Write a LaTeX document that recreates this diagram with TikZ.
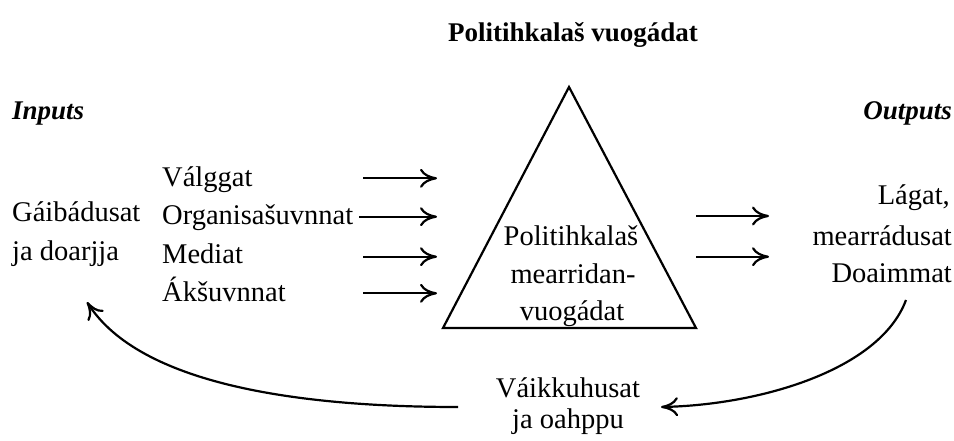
\documentclass[tikz,border=0pt]{standalone}
\usepackage{fontspec}
\setmainfont{Liberation Serif}
\usetikzlibrary{arrows.meta}
\begin{document}
\begin{tikzpicture}[x=1pt,y=-1pt,
  txt/.style={inner sep=0pt, font=\fontsize{28.5}{34}\selectfont},
  head/.style={inner sep=0pt, font=\bfseries\itshape\fontsize{27}{32}\selectfont},
  ttl/.style={inner sep=0pt, font=\bfseries\fontsize{27}{32}\selectfont},
  conn/.style={line width=2.2pt, -{Computer Modern Rightarrow[length=17pt,width=19pt,line width=2.2pt]}},
  tri/.style={line width=2.2pt, line join=miter}]
\useasboundingbox (0,0) rectangle (954,441);
% title and headings
\node[ttl, anchor=base] (title) at (573,42) {Politihkalaš vuogádat};
\node[head, anchor=base west] (inputs) at (12,120) {Inputs};
\node[head, anchor=base east] (outputs) at (952,120) {Outputs};
% left texts
\node[txt, anchor=base west] (gaib) at (12,222) {Gáibádusat};
\node[txt, anchor=base west] (doar) at (12,260) {ja doarjja};
\node[txt, anchor=base west] (valg) at (162,187) {Válggat};
\node[txt, anchor=base west] (org) at (162,225) {Organisašuvnnat};
\node[txt, anchor=base west] (med) at (162,263) {Mediat};
\node[txt, anchor=base west] (aks) at (162,301.5) {Ákšuvnnat};
% triangle
\coordinate (apex) at (569,87);
\coordinate (bl) at (443,328);
\coordinate (br) at (696,328);
\draw[tri] (apex) -- (bl) -- (br) -- cycle;
\node[txt, anchor=base] (t1) at (571,245) {Politihkalaš};
\node[txt, anchor=base] (t2) at (573,283) {mearridan-};
\node[txt, anchor=base] (t3) at (572,320) {vuogádat};
% right texts
\node[txt, anchor=base east] (lag) at (950,205) {Lágat,};
\node[txt, anchor=base east] (mear) at (952,245) {mearrádusat};
\node[txt, anchor=base east] (doai) at (952,282) {Doaimmat};
% bottom
\node[txt, anchor=base] (vaik) at (568,397) {Váikkuhusat};
\node[txt, anchor=base] (oahp) at (568,428) {ja oahppu};
% input arrows
\coordinate (a1s) at (363,178.3); \coordinate (a1e) at (437,178.3);
\coordinate (a2s) at (359,216.7); \coordinate (a2e) at (437,216.7);
\coordinate (a3s) at (363,256.7); \coordinate (a3e) at (437,256.7);
\coordinate (a4s) at (363,293.3); \coordinate (a4e) at (437,293.3);
\draw[conn] (a1s) -- (a1e);
\draw[conn] (a2s) -- (a2e);
\draw[conn] (a3s) -- (a3e);
\draw[conn] (a4s) -- (a4e);
% output arrows
\coordinate (o1s) at (696,216); \coordinate (o1e) at (769,216);
\coordinate (o2s) at (696,256.7); \coordinate (o2e) at (769,256.7);
\draw[conn] (o1s) -- (o1e);
\draw[conn] (o2s) -- (o2e);
% feedback curves
\coordinate (outStart) at (906,300);
\coordinate (fbR) at (661,407);
\coordinate (fbL) at (458,407);
\coordinate (inEnd) at (87,302);
\draw[conn] (outStart) .. controls (880,370) and (760,405) .. (fbR);
\draw[conn] (fbL) .. controls (300,407) and (140,385) .. (inEnd);
\end{tikzpicture}
\end{document}
